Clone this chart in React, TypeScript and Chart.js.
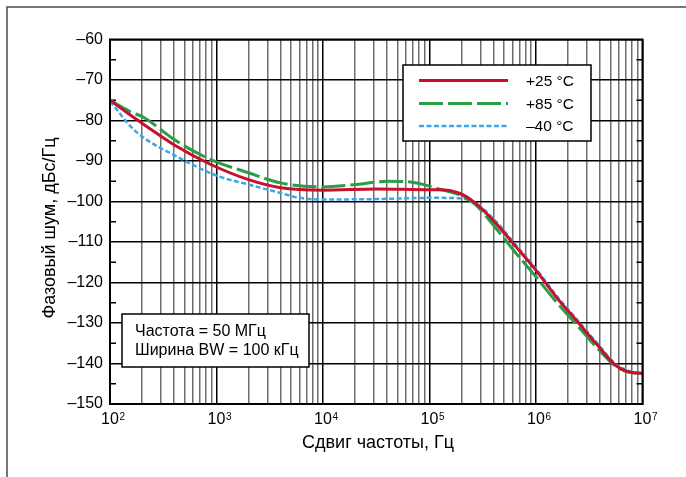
import React, { useEffect, useRef } from 'react';
import { Chart, registerables } from 'chart.js';

Chart.register(...registerables);

// ---- data ----
const FREQ_25 = [100, 154, 206, 417, 874, 2000, 4000, 10000, 32000, 100000, 122000, 188000, 270000, 420000, 650000, 1000000, 1550000, 2400000, 3700000, 5700000, 8200000, 10000000];
const NOISE_25 = [-75, -78.6, -80.9, -86.3, -90.8, -94.6, -96.6, -97.2, -96.9, -97.1, -97.1, -97.9, -100.4, -105.4, -111.2, -117.0, -123.6, -129.4, -135.2, -140.6, -142.3, -142.4];

const FREQ_85 = [100, 154, 206, 417, 874, 2000, 4000, 10000, 20700, 40000, 66000, 100000, 122000, 188000, 270000, 420000, 650000, 1000000, 1550000, 2400000, 3700000, 5700000, 8200000, 10000000];
const NOISE_85 = [-75, -77.8, -79.2, -85.0, -89.6, -92.9, -95.4, -96.4, -95.8, -95.0, -95.2, -96.2, -96.9, -98.3, -100.8, -106.6, -112.8, -118.6, -124.8, -130.4, -136.0, -140.8, -142.3, -142.4];

const FREQ_M40 = [100, 115, 154, 206, 417, 1000, 2000, 4000, 6000, 10000, 32000, 100000, 122000, 188000, 270000, 420000, 650000, 1000000, 1550000, 2400000, 3700000, 5700000, 8200000];
const NOISE_M40 = [-75.3, -77.2, -81.3, -84.2, -88.8, -93.6, -95.8, -97.9, -99.1, -99.5, -99.4, -99.1, -99.1, -99.2, -100.4, -104.9, -110.8, -116.6, -123.2, -129.0, -134.8, -140.3, -142.2];

const SERIES_LABELS = ['+25 °C', '+85 °C', '\u201340 °C'];
const NOTE_LINES = ['Частота = 50 МГц', 'Ширина BW = 100 кГц'];
const X_TITLE = 'Сдвиг частоты, Гц';
const Y_TITLE = 'Фазовый шум, дБс/Гц';

const X_MIN = 100;
const X_MAX = 10000000;
const Y_MIN = -150;
const Y_MAX = -60;
const Y_MINOR_TICKS = [-145, -135, -125, -115, -105, -95, -85, -75, -65];

const FONT = '"Liberation Sans", Arial, Helvetica, sans-serif';

const RED = '#c8102e';
const GREEN = '#2a9d48';
const BLUE = '#3aa8e8';

function buildXGrid(): number[] {
  const out: number[] = [];
  for (let e = 2; e < 7; e++) {
    for (let m = 1; m < 10; m++) out.push(m * Math.pow(10, e));
  }
  out.push(X_MAX);
  return out;
}

function isDecade(v: number): boolean {
  const l = Math.log10(v);
  return Math.abs(l - Math.round(l)) < 1e-6;
}

const decorPlugin = {
  id: 'decor',
  beforeDatasetsDraw(chart: any) {
    const ctx = chart.ctx;
    const ca = chart.chartArea;
    const ys = chart.scales.y;
    ctx.save();
    // minor inward ticks at 5 dB
    ctx.strokeStyle = '#000';
    ctx.lineWidth = 1.5;
    Y_MINOR_TICKS.forEach((v) => {
      const py = ys.getPixelForValue(v);
      ctx.beginPath();
      ctx.moveTo(ca.left, py);
      ctx.lineTo(ca.left + 6, py);
      ctx.moveTo(ca.right - 6, py);
      ctx.lineTo(ca.right, py);
      ctx.stroke();
    });
    // legend box
    const lx = 403, ly = 65, lw = 188, lh = 76;
    ctx.fillStyle = '#fff';
    ctx.fillRect(lx, ly, lw, lh);
    ctx.lineWidth = 1.5;
    ctx.strokeStyle = '#000';
    ctx.strokeRect(lx, ly, lw, lh);
    const rows = [80.5, 103.5, 126];
    chart.data.datasets.forEach((ds: any, i: number) => {
      ctx.save();
      ctx.strokeStyle = ds.borderColor;
      ctx.lineWidth = ds.borderWidth;
      ctx.setLineDash(ds.borderDash || []);
      ctx.beginPath();
      ctx.moveTo(419, rows[i]);
      ctx.lineTo(508, rows[i]);
      ctx.stroke();
      ctx.restore();
      ctx.fillStyle = '#000';
      ctx.font = `15.5px ${FONT}`;
      ctx.textBaseline = 'middle';
      ctx.textAlign = 'left';
      ctx.fillText(SERIES_LABELS[i], 526, rows[i] + 1);
    });
    // note box
    const nx = 122, ny = 314, nw = 187, nh = 53;
    ctx.fillStyle = '#fff';
    ctx.fillRect(nx, ny, nw, nh);
    ctx.strokeStyle = '#000';
    ctx.lineWidth = 1.5;
    ctx.strokeRect(nx, ny, nw, nh);
    ctx.fillStyle = '#000';
    ctx.font = `16px ${FONT}`;
    ctx.textBaseline = 'alphabetic';
    ctx.textAlign = 'left';
    ctx.fillText(NOTE_LINES[0], 135, 336);
    ctx.fillText(NOTE_LINES[1], 135, 355);
    ctx.restore();
  },
  afterDraw(chart: any) {
    const ctx = chart.ctx;
    const ca = chart.chartArea;
    const xs = chart.scales.x;
    ctx.save();
    // plot frame
    ctx.strokeStyle = '#000';
    ctx.lineWidth = 2;
    ctx.strokeRect(ca.left, ca.top, ca.right - ca.left, ca.bottom - ca.top);
    // outer frame (top and left)
    ctx.strokeStyle = '#4a4a4a';
    ctx.lineWidth = 1.5;
    ctx.beginPath();
    ctx.moveTo(686, 7);
    ctx.lineTo(7, 7);
    ctx.lineTo(7, 477);
    ctx.stroke();
    // exponents of the decade tick labels
    ctx.fillStyle = '#000';
    ctx.font = `16px ${FONT}`;
    const baseHalf = ctx.measureText('10').width / 2;
    ctx.font = `10px ${FONT}`;
    ctx.textAlign = 'left';
    ctx.textBaseline = 'top';
    xs.ticks.forEach((t: any) => {
      if (!isDecade(t.value)) return;
      const px = xs.getPixelForValue(t.value);
      const e = Math.round(Math.log10(t.value));
      ctx.fillText(String(e), px + baseHalf + 0.5, ca.bottom + 8);
    });
    // titles
    ctx.font = `18px ${FONT}`;
    ctx.textAlign = 'center';
    ctx.textBaseline = 'middle';
    ctx.fillText(X_TITLE, 378, 443);
    ctx.translate(50, 228);
    ctx.rotate(-Math.PI / 2);
    ctx.fillText(Y_TITLE, 0, 0);
    ctx.restore();
  },
};

function toPoints(xs: number[], ys: number[]) {
  return xs.map((x, i) => ({ x, y: ys[i] }));
}

export default function App() {
  const ref = useRef<HTMLCanvasElement | null>(null);

  useEffect(() => {
    if (!ref.current) return;
    const xGrid = buildXGrid();
    const chart = new Chart(ref.current, {
      type: 'line',
      data: {
        datasets: [
          {
            label: SERIES_LABELS[0],
            data: toPoints(FREQ_25, NOISE_25),
            borderColor: RED,
            borderWidth: 3,
            pointRadius: 0,
            fill: false,
            cubicInterpolationMode: 'monotone',
          },
          {
            label: SERIES_LABELS[1],
            data: toPoints(FREQ_85, NOISE_85),
            borderColor: GREEN,
            borderWidth: 3,
            borderDash: [24, 5],
            pointRadius: 0,
            fill: false,
            cubicInterpolationMode: 'monotone',
          },
          {
            label: SERIES_LABELS[2],
            data: toPoints(FREQ_M40, NOISE_M40),
            borderColor: BLUE,
            borderWidth: 2.5,
            borderDash: [5, 2.5],
            pointRadius: 0,
            fill: false,
            cubicInterpolationMode: 'monotone',
          },
        ],
      } as any,
      options: {
        responsive: false,
        animation: false,
        devicePixelRatio: 1,
        layout: { padding: { left: 0, right: 43.5, top: 39.5, bottom: 0 } },
        plugins: { legend: { display: false }, tooltip: { enabled: false } },
        scales: {
          x: {
            type: 'logarithmic',
            min: X_MIN,
            max: X_MAX,
            afterBuildTicks: (s: any) => {
              s.ticks = xGrid.map((v) => ({ value: v }));
            },
            afterFit: (s: any) => {
              s.height = 73;
            },
            grid: {
              color: (c: any) => (c.tick && isDecade(c.tick.value) ? '#000' : '#6e6e6e'),
              lineWidth: 1.5,
              drawTicks: false,
            },
            border: { display: true, color: '#000', width: 2 },
            ticks: {
              autoSkip: false,
              maxRotation: 0,
              minRotation: 0,
              padding: 6,
              color: '#000',
              font: { family: FONT, size: 16 },
              callback: (v: any) => (isDecade(Number(v)) ? '10' : ''),
            },
          },
          y: {
            type: 'linear',
            min: Y_MIN,
            max: Y_MAX,
            afterFit: (s: any) => {
              s.width = 110;
            },
            grid: {
              color: (c: any) => (c.tick && c.tick.value % 10 === 0 ? '#000' : 'rgba(0,0,0,0)'),
              lineWidth: 1.5,
              drawTicks: false,
            },
            border: { display: true, color: '#000', width: 2 },
            ticks: {
              stepSize: 5,
              autoSkip: false,
              padding: 7,
              color: '#000',
              font: { family: FONT, size: 16 },
              callback: (v: any) => {
                const n = Number(v);
                if (n % 10 !== 0) return '';
                return n < 0 ? '\u2013' + Math.abs(n) : String(n);
              },
            },
          },
        },
      } as any,
      plugins: [decorPlugin],
    });
    return () => chart.destroy();
  }, []);

  return (
    <div style={{ position: 'fixed', left: 0, top: 0, width: 686, height: 477, background: '#fff' }}>
      <canvas ref={ref} width={686} height={477} style={{ display: 'block', width: 686, height: 477 }} />
    </div>
  );
}
